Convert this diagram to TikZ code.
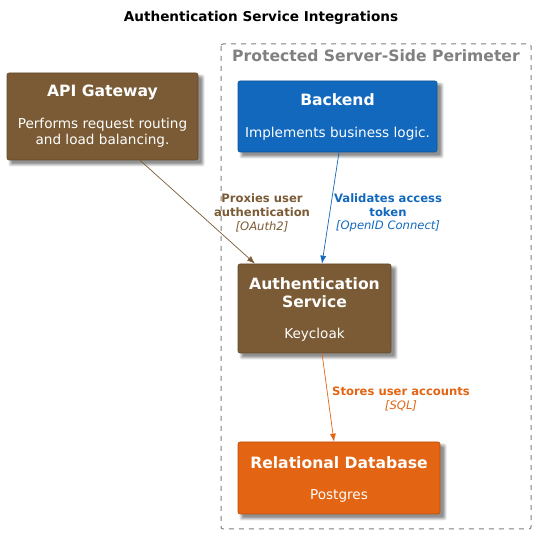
\documentclass[tikz,border=0pt]{standalone}
\usepackage{fontspec}
\setmainfont{DejaVu Sans}
\usetikzlibrary{arrows.meta}
\definecolor{gwbrown}{HTML}{7A5B35}
\definecolor{beblue}{HTML}{1168BD}
\definecolor{dborange}{HTML}{E36412}
\definecolor{permgray}{HTML}{808080}
\tikzset{
  sysbox/.style={draw=#1!80!black, fill=#1, rounded corners=2pt, line width=0.6pt, inner sep=0pt},
  ttl/.style={text=white, font=\bfseries\fontsize{15.6}{18.5}\selectfont, align=center, inner sep=0pt},
  dsc/.style={text=white, font=\fontsize{13.6}{15.5}\selectfont, align=center, inner sep=0pt},
  rel/.style={-{Latex[length=8pt,width=6pt]}, line width=0.7pt, draw=#1},
  rlbl/.style={text=#1, font=\fontsize{11.6}{13.8}\selectfont, align=center, inner sep=0pt}
}
\newcommand{\softshadow}[4]{%
  \foreach \e/\o in {2.5/0.10,1.5/0.12,0.5/0.14,-0.5/0.16}{%
    \fill[black, opacity=\o, rounded corners=2pt] (#1+4-\e,#2+4-\e) rectangle (#3+4+\e,#4+4+\e);}%
}
\begin{document}
\begin{tikzpicture}[x=1pt,y=-1pt]
\useasboundingbox (0,0) rectangle (536,534);
% title
\node[font=\bfseries\fontsize{13.6}{16.5}\selectfont, anchor=center] (title) at (261,18) {Authentication Service Integrations};
% perimeter
\draw[permgray, dash pattern=on 5pt off 5pt, line width=1pt, rounded corners=2pt] (221,44) rectangle (531,529);
\node[text=permgray, font=\bfseries\fontsize{15.6}{18.5}\selectfont, anchor=center, inner sep=0pt] (perim) at (376,56) {Protected Server-Side Perimeter};
% shadows
\softshadow{7}{73}{198}{160}
\softshadow{238}{81}{437}{152}
\softshadow{238}{264}{391}{353}
\softshadow{238}{442}{440}{514}
% boxes
\node[sysbox=gwbrown, minimum width=191pt, minimum height=87pt] (gw) at (102.5,116.5) {};
\node[sysbox=beblue, minimum width=199pt, minimum height=71pt] (be) at (337.5,116.5) {};
\node[sysbox=gwbrown, minimum width=153pt, minimum height=89pt] (auth) at (314.5,308.5) {};
\node[sysbox=dborange, minimum width=202pt, minimum height=72pt] (db) at (339,478) {};
% texts
\node[ttl] (gwt) at (102.5,92) {API Gateway};
\node[dsc] (gwd) at (102.5,133) {Performs request routing\\and load balancing.};
\node[ttl] (bet) at (337.5,100) {Backend};
\node[dsc] (bed) at (337.5,134) {Implements business logic.};
\node[ttl] (autht) at (314.5,292.5) {Authentication\\Service};
\node[dsc] (authd) at (314.5,335) {Keycloak};
\node[ttl] (dbt) at (339,463) {Relational Database};
\node[dsc] (dbd) at (339,496) {Postgres};
% relations
\draw[rel=gwbrown] ([xshift=37.5pt]gw.south) -- ([xshift=-59.5pt]auth.north);
\draw[rel=beblue] ([xshift=1.5pt]be.south) -- ([xshift=7.5pt]auth.north);
\draw[rel=dborange] ([xshift=7.5pt]auth.south) -- ([xshift=-5pt]db.north);
% labels
\node[rlbl=gwbrown] (l1) at (262,213) {\textbf{Proxies user}\\\textbf{authentication}\\\textit{[OAuth2]}};
\node[rlbl=beblue] (l2) at (388,213) {\textbf{Validates access}\\\textbf{token}\\\textit{[OpenID Connect]}};
\node[rlbl=dborange] (l3) at (401,399) {\textbf{Stores user accounts}\\\textit{[SQL]}};
\end{tikzpicture}
\end{document}
